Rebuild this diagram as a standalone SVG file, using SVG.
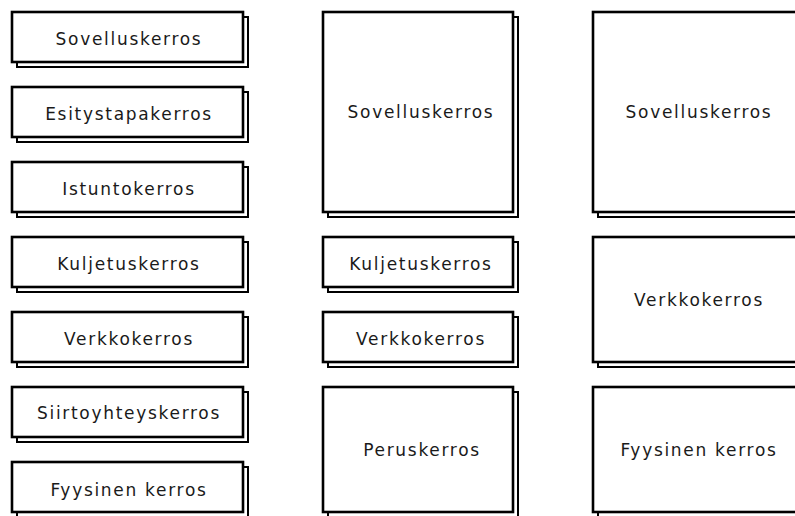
<svg xmlns="http://www.w3.org/2000/svg" width="795" height="516" viewBox="0 0 795 516">
<defs>
<style>
.sh{fill:#fff;stroke:#000;stroke-width:2}
.bx{fill:#fff;stroke:#000;stroke-width:2.6}
.t{font-family:"DejaVu Sans",Verdana,sans-serif;font-size:17px;letter-spacing:1.7px;fill:#1a1a1a;text-anchor:middle;dominant-baseline:central}
</style>
</defs>
<rect width="795" height="516" fill="#fff"/>
<g id="osi">
<g id="osi7"><rect class="sh" x="17" y="17" width="231" height="50"/><rect class="bx" x="12" y="12" width="231" height="50"/><text class="t" x="129" y="39">Sovelluskerros</text></g>
<g id="osi6"><rect class="sh" x="17" y="92" width="231" height="50"/><rect class="bx" x="12" y="87" width="231" height="50"/><text class="t" x="129" y="114">Esitystapakerros</text></g>
<g id="osi5"><rect class="sh" x="17" y="167" width="231" height="50"/><rect class="bx" x="12" y="162" width="231" height="50"/><text class="t" x="129" y="189">Istuntokerros</text></g>
<g id="osi4"><rect class="sh" x="17" y="242" width="231" height="50"/><rect class="bx" x="12" y="237" width="231" height="50"/><text class="t" x="129" y="264">Kuljetuskerros</text></g>
<g id="osi3"><rect class="sh" x="17" y="317" width="231" height="50"/><rect class="bx" x="12" y="312" width="231" height="50"/><text class="t" x="129" y="339">Verkkokerros</text></g>
<g id="osi2"><rect class="sh" x="17" y="392" width="231" height="50"/><rect class="bx" x="12" y="387" width="231" height="50"/><text class="t" x="129" y="413">Siirtoyhteyskerros</text></g>
<g id="osi1"><rect class="sh" x="17" y="467" width="231" height="50"/><rect class="bx" x="12" y="462" width="231" height="50"/><text class="t" x="129" y="490">Fyysinen kerros</text></g>
</g>
<g id="tcpip">
<g id="tcp4"><rect class="sh" x="328" y="17" width="190" height="200"/><rect class="bx" x="323" y="12" width="190" height="200"/><text class="t" x="421" y="112">Sovelluskerros</text></g>
<g id="tcp3"><rect class="sh" x="328" y="242" width="190" height="50"/><rect class="bx" x="323" y="237" width="190" height="50"/><text class="t" x="421" y="264">Kuljetuskerros</text></g>
<g id="tcp2"><rect class="sh" x="328" y="317" width="190" height="50"/><rect class="bx" x="323" y="312" width="190" height="50"/><text class="t" x="421" y="339">Verkkokerros</text></g>
<g id="tcp1"><rect class="sh" x="328" y="392" width="190" height="130"/><rect class="bx" x="323" y="387" width="190" height="125"/><text class="t" x="422" y="450">Peruskerros</text></g>
</g>
<g id="simple">
<g id="s3"><rect class="sh" x="598" y="17" width="220" height="200"/><rect class="bx" x="593" y="12" width="220" height="200"/><text class="t" x="699" y="112">Sovelluskerros</text></g>
<g id="s2"><rect class="sh" x="598" y="242" width="220" height="125"/><rect class="bx" x="593" y="237" width="220" height="125"/><text class="t" x="699" y="300">Verkkokerros</text></g>
<g id="s1"><rect class="sh" x="598" y="392" width="220" height="130"/><rect class="bx" x="593" y="387" width="220" height="125"/><text class="t" x="699" y="450">Fyysinen kerros</text></g>
</g>
<g id="connectors"/>
</svg>
